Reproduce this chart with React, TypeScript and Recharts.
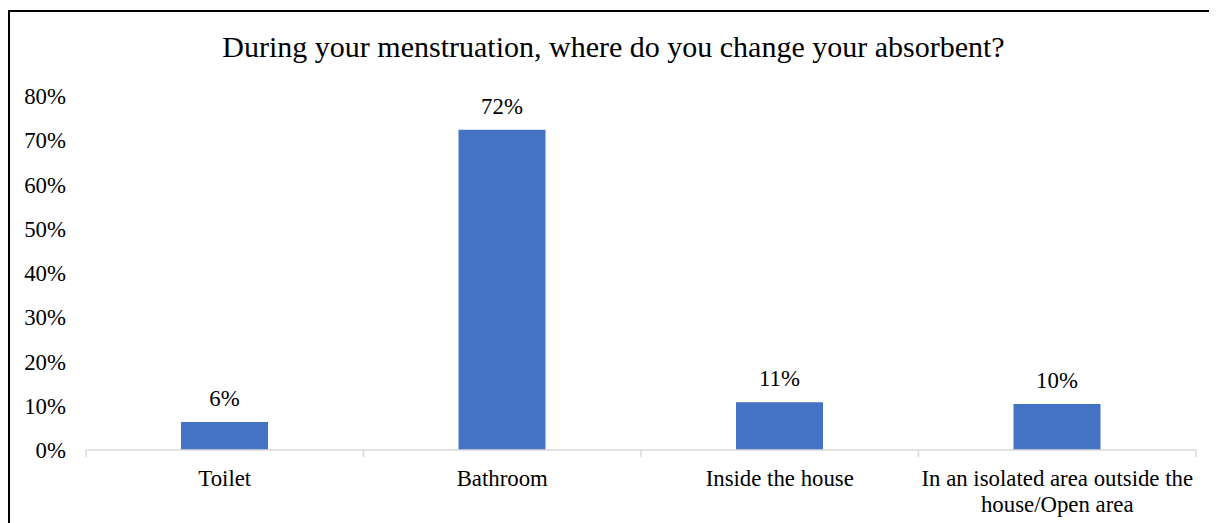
import React from 'react';
import { BarChart, Bar, XAxis, YAxis, LabelList } from 'recharts';

const categories = ['Toilet', 'Bathroom', 'Inside the house', 'In an isolated area outside the house/Open area'];
const shares = [6.3, 72.4, 10.8, 10.4];
const yTicks = [0, 10, 20, 30, 40, 50, 60, 70, 80];
const title = 'During your menstruation, where do you change your absorbent?';

const data = categories.map((category, i) => ({ category, share: shares[i] }));

const FONT = '"Liberation Serif", "Times New Roman", serif';
const FS = 22.8;
const TICK_GAP = 20;
const MARK_LEN = 7;
const AXIS_GREY = '#d9d9d9';

// greedy wrap by character count so the long label breaks like the original
const wrap = (s: string, max: number) => {
    const lines: string[] = [];
    let cur = '';
    s.split(' ').forEach((w) => {
        const next = cur ? cur + ' ' + w : w;
        if (next.length > max && cur) {
            lines.push(cur);
            cur = w;
        } else {
            cur = next;
        }
    });
    if (cur) lines.push(cur);
    return lines;
};

// label + the small divider marks that sit between categories
const CategoryTick = (props: any) => {
    const { x, y, payload, index } = props;
    const half = payload.offset || 0;
    const axisY = y - TICK_GAP;
    const lines = wrap(String(payload.value), 32);
    return (
        <g>
            <line x1={x - half} x2={x - half} y1={axisY} y2={axisY + MARK_LEN} stroke={AXIS_GREY} strokeWidth={1.5} />
            {index === categories.length - 1 && (
                <line x1={x + half} x2={x + half} y1={axisY} y2={axisY + MARK_LEN} stroke={AXIS_GREY} strokeWidth={1.5} />
            )}
            <text x={x} y={y} textAnchor="middle" fontSize={FS} fontFamily={FONT} fill="#000">
                {lines.map((l, i) => (
                    <tspan key={i} x={x} dy={i === 0 ? '0.71em' : 26}>
                        {l}
                    </tspan>
                ))}
            </text>
        </g>
    );
};

const App: React.FC = () => {
    return (
        <div
            style={{
                position: 'relative',
                top: 2,
                width: 1240,
                height: 540,
                borderTop: '2px solid #000',
                borderLeft: '2px solid #000',
                fontFamily: FONT,
            }}
        >
            <div
                style={{
                    position: 'absolute',
                    top: 18,
                    left: 0,
                    width: 1207,
                    textAlign: 'center',
                    fontSize: 30,
                    color: '#000',
                }}
            >
                {title}
            </div>
            <BarChart
                width={1207}
                height={511}
                data={data}
                margin={{ top: 84, right: 21, bottom: 13, left: 0 }}
            >
                <XAxis
                    dataKey="category"
                    axisLine={{ stroke: AXIS_GREY, strokeWidth: 1.5 }}
                    tickLine={false}
                    tickSize={0}
                    tickMargin={TICK_GAP}
                    height={60}
                    interval={0}
                    tick={<CategoryTick />}
                />
                <YAxis
                    domain={[0, 80]}
                    ticks={yTicks}
                    width={76}
                    axisLine={false}
                    tickLine={false}
                    tickSize={0}
                    tickMargin={20}
                    tickFormatter={(v: number) => `${v}%`}
                    tick={{ fontSize: FS, fill: '#000', fontFamily: FONT }}
                />
                <Bar dataKey="share" fill="#4472C4" barSize={87} isAnimationActive={false}>
                    <LabelList
                        dataKey="share"
                        position="top"
                        offset={16}
                        formatter={(v: any) => `${Math.round(Number(v))}%`}
                        style={{ fontSize: FS, fill: '#000', fontFamily: FONT }}
                    />
                </Bar>
            </BarChart>
        </div>
    );
};

export default App;
